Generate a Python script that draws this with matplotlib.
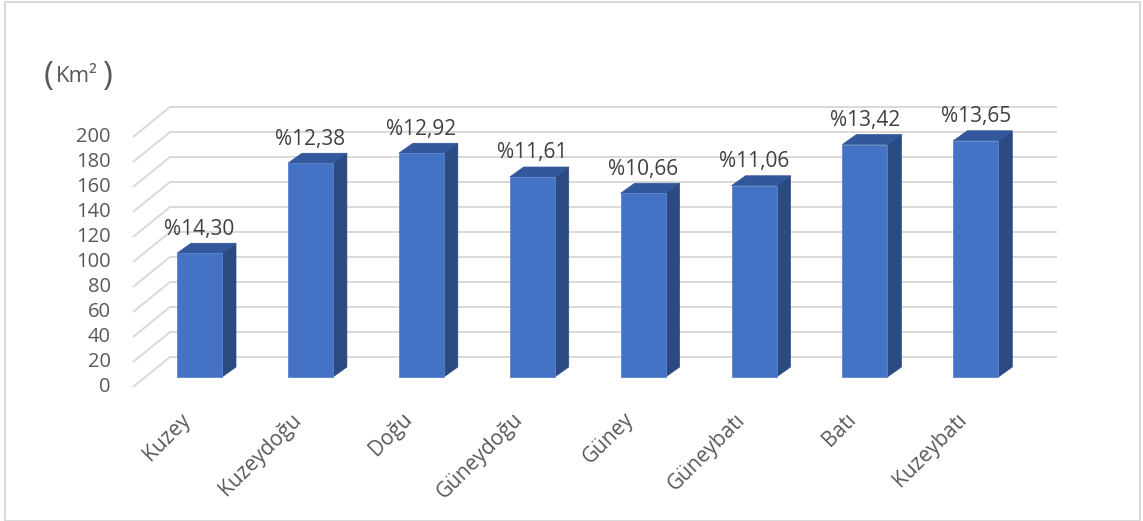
import matplotlib
matplotlib.use("Agg")
import matplotlib.pyplot as plt
from matplotlib.patches import Polygon, Rectangle

plt.rcParams['font.family'] = ['Open Sans', 'DejaVu Sans']

# Alan dağılımı (km2) ve yüzde payları
categories = ["Kuzey", "Kuzeydoğu", "Doğu", "Güneydoğu", "Güney", "Güneybatı", "Batı", "Kuzeybatı"]
area = [99, 171, 179, 160, 147, 153, 186, 189]
share = ["%14,30", "%12,38", "%12,92", "%11,61", "%10,66", "%11,06", "%13,42", "%13,65"]
yticks = [0, 20, 40, 60, 80, 100, 120, 140, 160, 180, 200]

W, H = 1143, 521
fig = plt.figure(figsize=(W / 100, H / 100), dpi=100)
ax = fig.add_axes([0, 0, 1, 1])

# axis units: 1 category = 110.9 px, 1 km2 = 1.25 px; origin on bar front faces
px_x, px_y = 110.9, 1.25
x0, y0 = 199.5, 377
ax.set_xlim(-x0 / px_x, (W - x0) / px_x)
ax.set_ylim(-(H - y0) / px_y, y0 / px_y)
ax.axis("off")

# oblique depth of the floor/back wall and of each column
front_dx, front_dy = -12.3 / px_x, -10 / px_y
back_dx, back_dy = 24.7 / px_x, 20 / px_y
left_x = -54.2 / px_x
right_x = 7.732
bar_w = 45 / px_x
bar_dx, bar_dy = 14 / px_x, 10 / px_y

grid_c = "#d9d9d9"
for v in yticks:
    ax.plot([left_x + front_dx, left_x + back_dx, right_x],
            [v + front_dy, v + back_dy, v + back_dy],
            color=grid_c, lw=1.4, zorder=1, solid_capstyle="butt")
    ax.text(left_x + front_dx - 0.2, v + front_dy, str(v), ha="right", va="center",
            fontsize=14.5, color="#595959")

front_c, side_c, top_c = "#4472C4", "#2B4A81", "#33579B"
for i, (v, lab) in enumerate(zip(area, share)):
    xl, xr = i - bar_w / 2, i + bar_w / 2
    side = Polygon([(xr, 0), (xr + bar_dx, bar_dy), (xr + bar_dx, v + bar_dy), (xr, v)],
                   closed=True, facecolor=side_c, edgecolor=side_c, lw=0.5, zorder=2)
    top = Polygon([(xl, v), (xr, v), (xr + bar_dx, v + bar_dy), (xl + bar_dx, v + bar_dy)],
                  closed=True, facecolor=top_c, edgecolor=top_c, lw=0.5, zorder=2)
    front = Rectangle((xl, 0), bar_w, v, facecolor=front_c, edgecolor="#5b84cc",
                      lw=0.6, zorder=3)
    ax.add_patch(side)
    ax.add_patch(top)
    ax.add_patch(front)
    ax.annotate(lab, (i, v), xytext=(0, 17.3), textcoords="offset points",
                ha="center", va="center", fontsize=15, color="#404040")
    ax.text(i - 0.045, -25.6, categories[i], rotation=45, ha="right", va="top",
            fontsize=15, color="#595959")

# unit label
fig.text(44 / W, 1 - 77 / H, "(", fontsize=24, color="#595959", ha="left", va="center")
fig.text(56 / W, 1 - 76 / H, "Km²", fontsize=16, color="#595959", ha="left", va="center")
fig.text(102 / W, 1 - 77 / H, ")", fontsize=24, color="#595959", ha="left", va="center")

# chart border
fig.patches.append(Rectangle((5 / W, 0), 1135 / W, 1 - 2 / H, transform=fig.transFigure,
                             fill=False, edgecolor="#d9d9d9", lw=1.5))

fig.savefig("out.png", dpi=100)
